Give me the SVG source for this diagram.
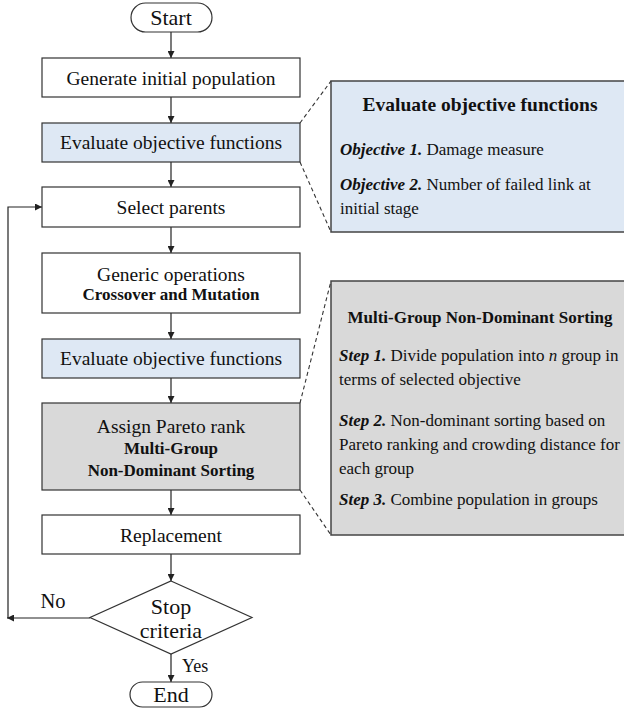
<svg xmlns="http://www.w3.org/2000/svg" width="624" height="713" viewBox="0 0 624 713">
<defs>
<marker id="ah" viewBox="0 0 10 10" refX="10" refY="5" markerWidth="7" markerHeight="7" markerUnits="userSpaceOnUse" orient="auto">
<path d="M0,0 L10,5 L0,10 z" fill="#222"/>
</marker>
<style>
.box{stroke:#333;stroke-width:1.2;fill:#fff}
.blue{fill:#dee8f4}
.gray{fill:#d9d9d9}
.panel{stroke:#444;stroke-width:1.5}
text{font-family:'Liberation Serif','Times New Roman',Times,serif}
.t{font-size:19.5px;fill:#111;text-anchor:middle}
.b{font-weight:bold}
.bs{font-weight:bold;font-size:17px}
.p{font-size:17px;fill:#111}
.ln{stroke:#222;stroke-width:1.2;fill:none}
.dash{stroke:#333;stroke-width:1.1;fill:none;stroke-dasharray:4,3}
</style>
</defs>
<g id="connectors">
<line class="ln" x1="171" y1="32" x2="171" y2="58" marker-end="url(#ah)"/>
<line class="ln" x1="171" y1="97" x2="171" y2="123" marker-end="url(#ah)"/>
<line class="ln" x1="171" y1="162" x2="171" y2="187" marker-end="url(#ah)"/>
<line class="ln" x1="171" y1="227" x2="171" y2="253" marker-end="url(#ah)"/>
<line class="ln" x1="171" y1="313" x2="171" y2="339" marker-end="url(#ah)"/>
<line class="ln" x1="171" y1="378" x2="171" y2="403" marker-end="url(#ah)"/>
<line class="ln" x1="171" y1="490" x2="171" y2="515" marker-end="url(#ah)"/>
<line class="ln" x1="171" y1="554" x2="171" y2="581" marker-end="url(#ah)"/>
<line class="ln" x1="171" y1="654" x2="171" y2="682" marker-end="url(#ah)"/>
<line class="ln" x1="90" y1="618" x2="7" y2="618" marker-end="url(#ah)"/>
<polyline class="ln" points="8,618 8,207 42,207" marker-end="url(#ah)"/>
<text class="t" x="53" y="608" style="font-size:20.5px">No</text>
<text class="t" x="182" y="672" style="font-size:18px;text-anchor:start">Yes</text>
<line class="dash" x1="300" y1="123" x2="331" y2="81"/>
<line class="dash" x1="300" y1="162" x2="331" y2="232"/>
<line class="dash" x1="300" y1="403" x2="331" y2="281"/>
<line class="dash" x1="300" y1="490" x2="331" y2="535"/>
</g>
<g id="start">
<rect class="box" x="131" y="3" width="81" height="29" rx="14.5"/>
<text class="t" x="171" y="25" style="font-size:22px">Start</text>
</g>
<g id="generate">
<rect class="box" x="42" y="58" width="258" height="39"/>
<text class="t" x="171" y="85">Generate initial population</text>
</g>
<g id="evaluate1">
<rect class="box blue" x="42" y="123" width="258" height="39"/>
<text class="t" x="171" y="149">Evaluate objective functions</text>
</g>
<g id="select">
<rect class="box" x="42" y="187" width="258" height="40"/>
<text class="t" x="171" y="214">Select parents</text>
</g>
<g id="generic">
<rect class="box" x="42" y="253" width="258" height="60"/>
<text class="t" x="171" y="281">Generic operations</text>
<text class="t bs" x="171" y="300">Crossover and Mutation</text>
</g>
<g id="evaluate2">
<rect class="box blue" x="42" y="339" width="258" height="39"/>
<text class="t" x="171" y="365">Evaluate objective functions</text>
</g>
<g id="assign">
<rect class="box gray" x="42" y="403" width="258" height="87"/>
<text class="t" x="171" y="433">Assign Pareto rank</text>
<text class="t bs" x="171" y="454">Multi-Group</text>
<text class="t bs" x="171" y="476">Non-Dominant Sorting</text>
</g>
<g id="replacement">
<rect class="box" x="42" y="515" width="258" height="39"/>
<text class="t" x="171" y="542">Replacement</text>
</g>
<g id="stop">
<polygon class="box" points="171,581 252,617.5 171,654 90,617.5"/>
<text class="t" x="171" y="614" style="font-size:22px">Stop</text>
<text class="t" x="171" y="638" style="font-size:22px">criteria</text>
</g>
<g id="end">
<rect class="box" x="130" y="682" width="82" height="25" rx="12.5"/>
<text class="t" x="171" y="702" style="font-size:22px">End</text>
</g>
<g id="panel-objectives">
<rect class="panel blue" x="331" y="81" width="300" height="151"/>
<text class="t b" x="480" y="111">Evaluate objective functions</text>
<text class="p" x="340" y="155"><tspan font-weight="bold" font-style="italic">Objective 1.</tspan> Damage measure</text>
<text class="p" x="340" y="190"><tspan font-weight="bold" font-style="italic">Objective 2.</tspan> Number of failed link at</text>
<text class="p" x="340" y="214">initial stage</text>
</g>
<g id="panel-sorting">
<rect class="panel gray" x="331" y="281" width="300" height="254"/>
<text class="p b" x="480" y="323" text-anchor="middle">Multi-Group Non-Dominant Sorting</text>
<text class="p" x="339" y="361"><tspan font-weight="bold" font-style="italic">Step 1.</tspan> Divide population into <tspan font-style="italic">n</tspan> group in</text>
<text class="p" x="339" y="385">terms of selected objective</text>
<text class="p" x="339" y="426"><tspan font-weight="bold" font-style="italic">Step 2.</tspan> Non-dominant sorting based on</text>
<text class="p" x="339" y="450">Pareto ranking and crowding distance for</text>
<text class="p" x="339" y="474">each group</text>
<text class="p" x="339" y="505"><tspan font-weight="bold" font-style="italic">Step 3.</tspan> Combine population in groups</text>
</g>
</svg>
